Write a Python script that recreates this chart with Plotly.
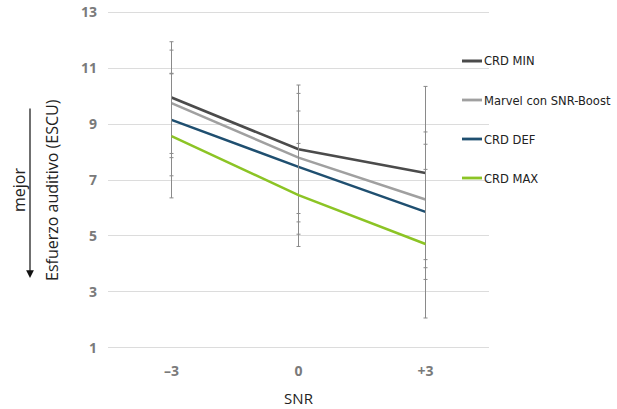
import plotly.graph_objects as go

# ---- data ----
snr = ["–3", "0", "+3"]
series_names = ["CRD MIN", "Marvel con SNR-Boost", "CRD DEF", "CRD MAX"]
crd_min = [9.95, 8.1, 7.25]
marvel = [9.75, 7.8, 6.3]
crd_def = [9.15, 7.47, 5.86]
crd_max = [8.57, 6.46, 4.71]
crd_min_err_up = [2.0, 2.3, 3.1]
crd_min_err_dn = [2.0, 2.3, 3.1]
marvel_err_up = [1.9, 2.3, 2.42]
marvel_err_dn = [1.95, 2.3, 2.44]
crd_def_err_up = [1.67, 2.0, 2.42]
crd_def_err_dn = [2.0, 2.41, 2.42]
crd_max_err_up = [2.23, 1.85, 2.67]
crd_max_err_dn = [2.21, 1.84, 2.65]
y_ticks = [1, 3, 5, 7, 9, 11, 13]

colors = ["#4b4b4b", "#a0a0a0", "#1f4f70", "#8cc425"]
widths = [2.7, 2.5, 2.5, 2.5]
values = [crd_min, marvel, crd_def, crd_max]
err_up = [crd_min_err_up, marvel_err_up, crd_def_err_up, crd_max_err_up]
err_dn = [crd_min_err_dn, marvel_err_dn, crd_def_err_dn, crd_max_err_dn]

fig = go.Figure()
for name, vals, eu, ed, c, w in zip(series_names, values, err_up, err_dn, colors, widths):
    fig.add_trace(go.Scatter(
        x=snr, y=vals, name=name, mode="lines",
        line=dict(color=c, width=w),
        error_y=dict(type="data", array=eu, arrayminus=ed, symmetric=False,
                     color="#8a8a8a", thickness=1, width=2),
        showlegend=False,
    ))

W, H = 617, 409
ml, mr, mt, mb = 108, 128, 11, 60
pw = W - ml - mr
ph = H - mt - mb

def px(x):
    return (x - ml) / pw

def py(y):
    return (H - mb - y) / ph

# custom legend
leg_y = [61, 100, 139, 178]
leg_font = dict(family="DejaVu Sans Condensed, sans-serif", size=12.8, color="#222222")
for name, c, w, yy in zip(series_names, colors, widths, leg_y):
    fig.add_shape(type="line", xref="paper", yref="paper",
                  x0=px(462), x1=px(482), y0=py(yy), y1=py(yy),
                  line=dict(color=c, width=w + 0.3))
    fig.add_annotation(xref="paper", yref="paper", x=px(482), y=py(yy),
                       text=name, showarrow=False, xanchor="left", yanchor="middle",
                       font=leg_font)

# y title and "mejor" arrow
title_font = dict(family="Open Sans, Liberation Sans, sans-serif", size=15, color="#222222")
side_font = dict(family="Open Sans, Liberation Sans, sans-serif", size=16, color="#222222")
fig.add_annotation(xref="paper", yref="paper", x=px(52), y=py(190),
                   text="Esfuerzo auditivo (ESCU)", textangle=-90, showarrow=False,
                   xanchor="center", yanchor="middle", font=side_font)
fig.add_annotation(xref="paper", yref="paper", x=px(19), y=py(190),
                   text="mejor", textangle=-90, showarrow=False,
                   xanchor="center", yanchor="middle", font=side_font)
fig.add_annotation(xref="paper", yref="paper", x=px(30), y=py(278),
                   ax=0, ay=-171, axref="pixel", ayref="pixel",
                   text="", showarrow=True, arrowhead=2, arrowsize=1.3, arrowwidth=1.2,
                   arrowcolor="#111111")

tick_font = dict(family="Open Sans, Liberation Sans, sans-serif", size=14,
                 color="#7a7a7a", weight="bold")
fig.update_layout(
    width=W, height=H,
    margin=dict(l=ml, r=mr, t=mt, b=mb),
    paper_bgcolor="white", plot_bgcolor="white",
    xaxis=dict(type="category", range=[-0.5, 2.5], showgrid=False, zeroline=False,
               showline=False, ticks="", ticklabelstandoff=12, automargin=False,
               tickfont=tick_font,
               title=dict(text="SNR", standoff=14, font=title_font)),
    yaxis=dict(range=[0.95, 13.05], tickvals=y_ticks, showgrid=True, gridcolor="#dcdcdc",
               gridwidth=1, zeroline=False, showline=False, ticks="", ticklabelstandoff=10,
               automargin=False, ticklabeloverflow="allow", tickfont=tick_font),
)

fig.write_html("out.html", config={"displayModeBar": False},
               post_script="document.body.style.margin='0';")
